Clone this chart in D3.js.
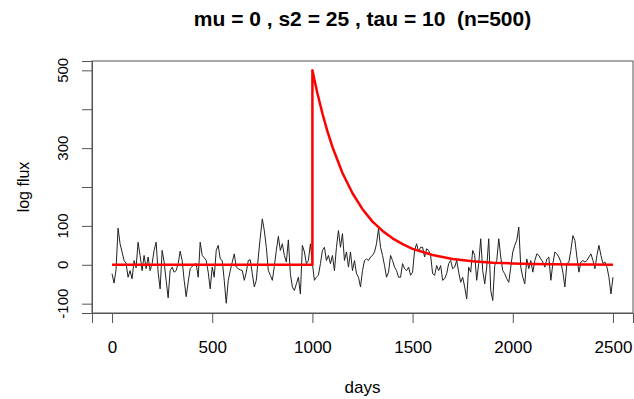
<!DOCTYPE html>
<html>
  <head>
    <meta charset="utf-8">
    <title>log flux vs days</title>
    <style>
      body { margin: 0; background: #fff; }
      text { font-family: "Liberation Sans", Arial, sans-serif; fill: #000; }
    </style>
  </head>
  <body>
    <div id="container"></div>
    <script src="https://d3js.org/d3.v7.min.js"></script>
    <script>

      // DATA
      var titleText = "mu = 0 , s2 = 25 , tau = 10  (n=500)";
      var xTicks = [0, 500, 1000, 1500, 2000, 2500];
      var yTicks = [-100, 0, 100, 300, 500];
      var yMinorTicks = [200, 400];
      var dayStep = 10;   // black series: one value every 10 days from day 0
      var flux = [
        -23, -47, -13, 94, 54, 33, 11, 4, -32, -15, -36, 11, -8, 58, 24, -15, 24, -10, 20, -15,
        3, 37, 58, -19, -62, 37, 7, -40, -85, -15, -6, -19, -15, 3, 35, 11, -40, -82, -45, -10,
        -4, 1, 3, -32, 58, 24, 18, 11,
        -19, -62, -6, -32, 37, 50, 15, 11, -40, -99, -40, -15, 7, 28, -6, -10, -13, -15, -40, -19,
        11, 13, -23, -57, -40, 20, 71, 118, 88, 45, -15, -27, -40, -4, 37, 73, 37, 54, 24, 7,
        64, -23, -57, -66, -49, -32, -75, 50, 33, 3, 11, 54, 3,
        -40, -32, -27, 3, 37, 45, 11, 24, 3, 24, -15, 45, 88, 45, 80, 11, 33, -6, 33, -15,
        11, -23, -32, -57, -15, 11, 15, 11, 20, 24, 33, 54, 93, 45, 24, -2, -32, -19, 24, 11,
        -6, -15, -32, -32, 3, -10, -15, -6, -27, -19, 37, 54, 33, 45,
        45, 20, 41, 37, 24, -23, -27, -2, -15, -2, -40, -36, -23, 3, 11, -10, -6, 11, -19, -45,
        -32, -57, -88, -6, -19, 37, 24, -40, 3, 67, -15, -49, -6, 67, -66, -92, -2, 11, 67, 20,
        -15, -23, -36, -45, -6, 33, 50, 63, 97, -6,
        -32, -49, 15, -10, 11, -19, 11, 28, 24, 15, 7, -6, 15, 20, -40, 3, 33, 28, 20, 7,
        -19, -57, 3, 7, 37, 75, 63, 20, -19, 7, 11, 7, 11, 20, 28, 11, -10, 24, 50, 24,
        3, 7, -6, -32, -75, -32
      ];
      var modelDays = [0, 1000, 1000, 1010, 1025, 1050, 1075, 1100, 1150, 1200, 1250, 1300, 1350,
                       1400, 1450, 1500, 1600, 1700, 1800, 1900, 2000, 2100, 2200, 2300, 2400, 2500];
      var modelFlux = [0, 0, 500, 476, 441, 389, 343, 303, 236, 184, 143, 111, 87,
                       68, 53, 41, 25, 15, 9, 5.5, 3.4, 2, 1.2, 0.7, 0.4, 0.2];

      // SET DIMENSIONS & MARGINS
      var W = 634, H = 399;
      var margin = { top: 61, right: 1, bottom: 86, left: 92 },
        width = W - margin.left - margin.right,
        height = H - margin.top - margin.bottom;

      var svg = d3.select("#container")
        .append("svg")
        .attr("width", W)
        .attr("height", H);

      var g = svg.append("g")
        .attr("transform", "translate(" + margin.left + "," + margin.top + ")");

      // SCALES (R style 4% padding)
      var x = d3.scaleLinear().domain([-100, 2600]).range([0, width]);
      var y = d3.scaleLinear().domain([-124, 524]).range([height, 0]);

      // X-AXIS
      var xAxis = g.append("g")
        .attr("transform", "translate(0," + height + ")")
        .call(d3.axisBottom(x).tickValues(xTicks).tickSize(10).tickPadding(18).tickFormat(d3.format("d")));
      xAxis.select(".domain").attr("stroke", "#555");
      xAxis.selectAll(".tick line").attr("stroke", "#555");
      xAxis.selectAll("text").style("font-size", "17px").attr("fill", "#000");

      // Y-AXIS (labels rotated like R)
      var yAxis = g.append("g")
        .call(d3.axisLeft(y).tickValues(yTicks.concat(yMinorTicks)).tickSize(10).tickFormat(""));
      yAxis.select(".domain").attr("stroke", "#555");
      yAxis.selectAll(".tick line").attr("stroke", "#555");
      g.selectAll(".ylab")
        .data(yTicks)
        .enter()
        .append("text")
        .attr("class", "ylab")
        .attr("transform", d => "translate(-24," + y(d) + ") rotate(-90)")
        .attr("text-anchor", "middle")
        .style("font-size", "15px")
        .text(d => d);

      // BOX
      g.append("rect")
        .attr("width", width)
        .attr("height", height)
        .attr("fill", "none")
        .attr("stroke", "#555");

      // BLACK SERIES
      var line = d3.line()
        .x((d, i) => x(i * dayStep))
        .y(d => y(d));
      g.append("path")
        .datum(flux)
        .attr("d", line)
        .attr("fill", "none")
        .attr("stroke", "#222")
        .attr("stroke-width", 1);

      // RED MODEL CURVE
      var modelLine = d3.line()
        .x((d, i) => x(modelDays[i]))
        .y(d => y(d));
      g.append("path")
        .datum(modelFlux)
        .attr("d", modelLine)
        .attr("fill", "none")
        .attr("stroke", "#ff0000")
        .attr("stroke-width", 2.5)
        .attr("stroke-linejoin", "round");

      // TITLES
      svg.append("text")
        .attr("x", margin.left + width / 2)
        .attr("y", 26)
        .attr("text-anchor", "middle")
        .style("font-size", "21px")
        .style("font-weight", "bold")
        .style("white-space", "pre")
        .text(titleText);

      svg.append("text")
        .attr("x", margin.left + width / 2)
        .attr("y", 393)
        .attr("text-anchor", "middle")
        .style("font-size", "17px")
        .text("days");

      svg.append("text")
        .attr("transform", "translate(29," + (margin.top + height / 2) + ") rotate(-90)")
        .attr("text-anchor", "middle")
        .style("font-size", "16px")
        .text("log flux");

    </script>
  </body>
</html>
